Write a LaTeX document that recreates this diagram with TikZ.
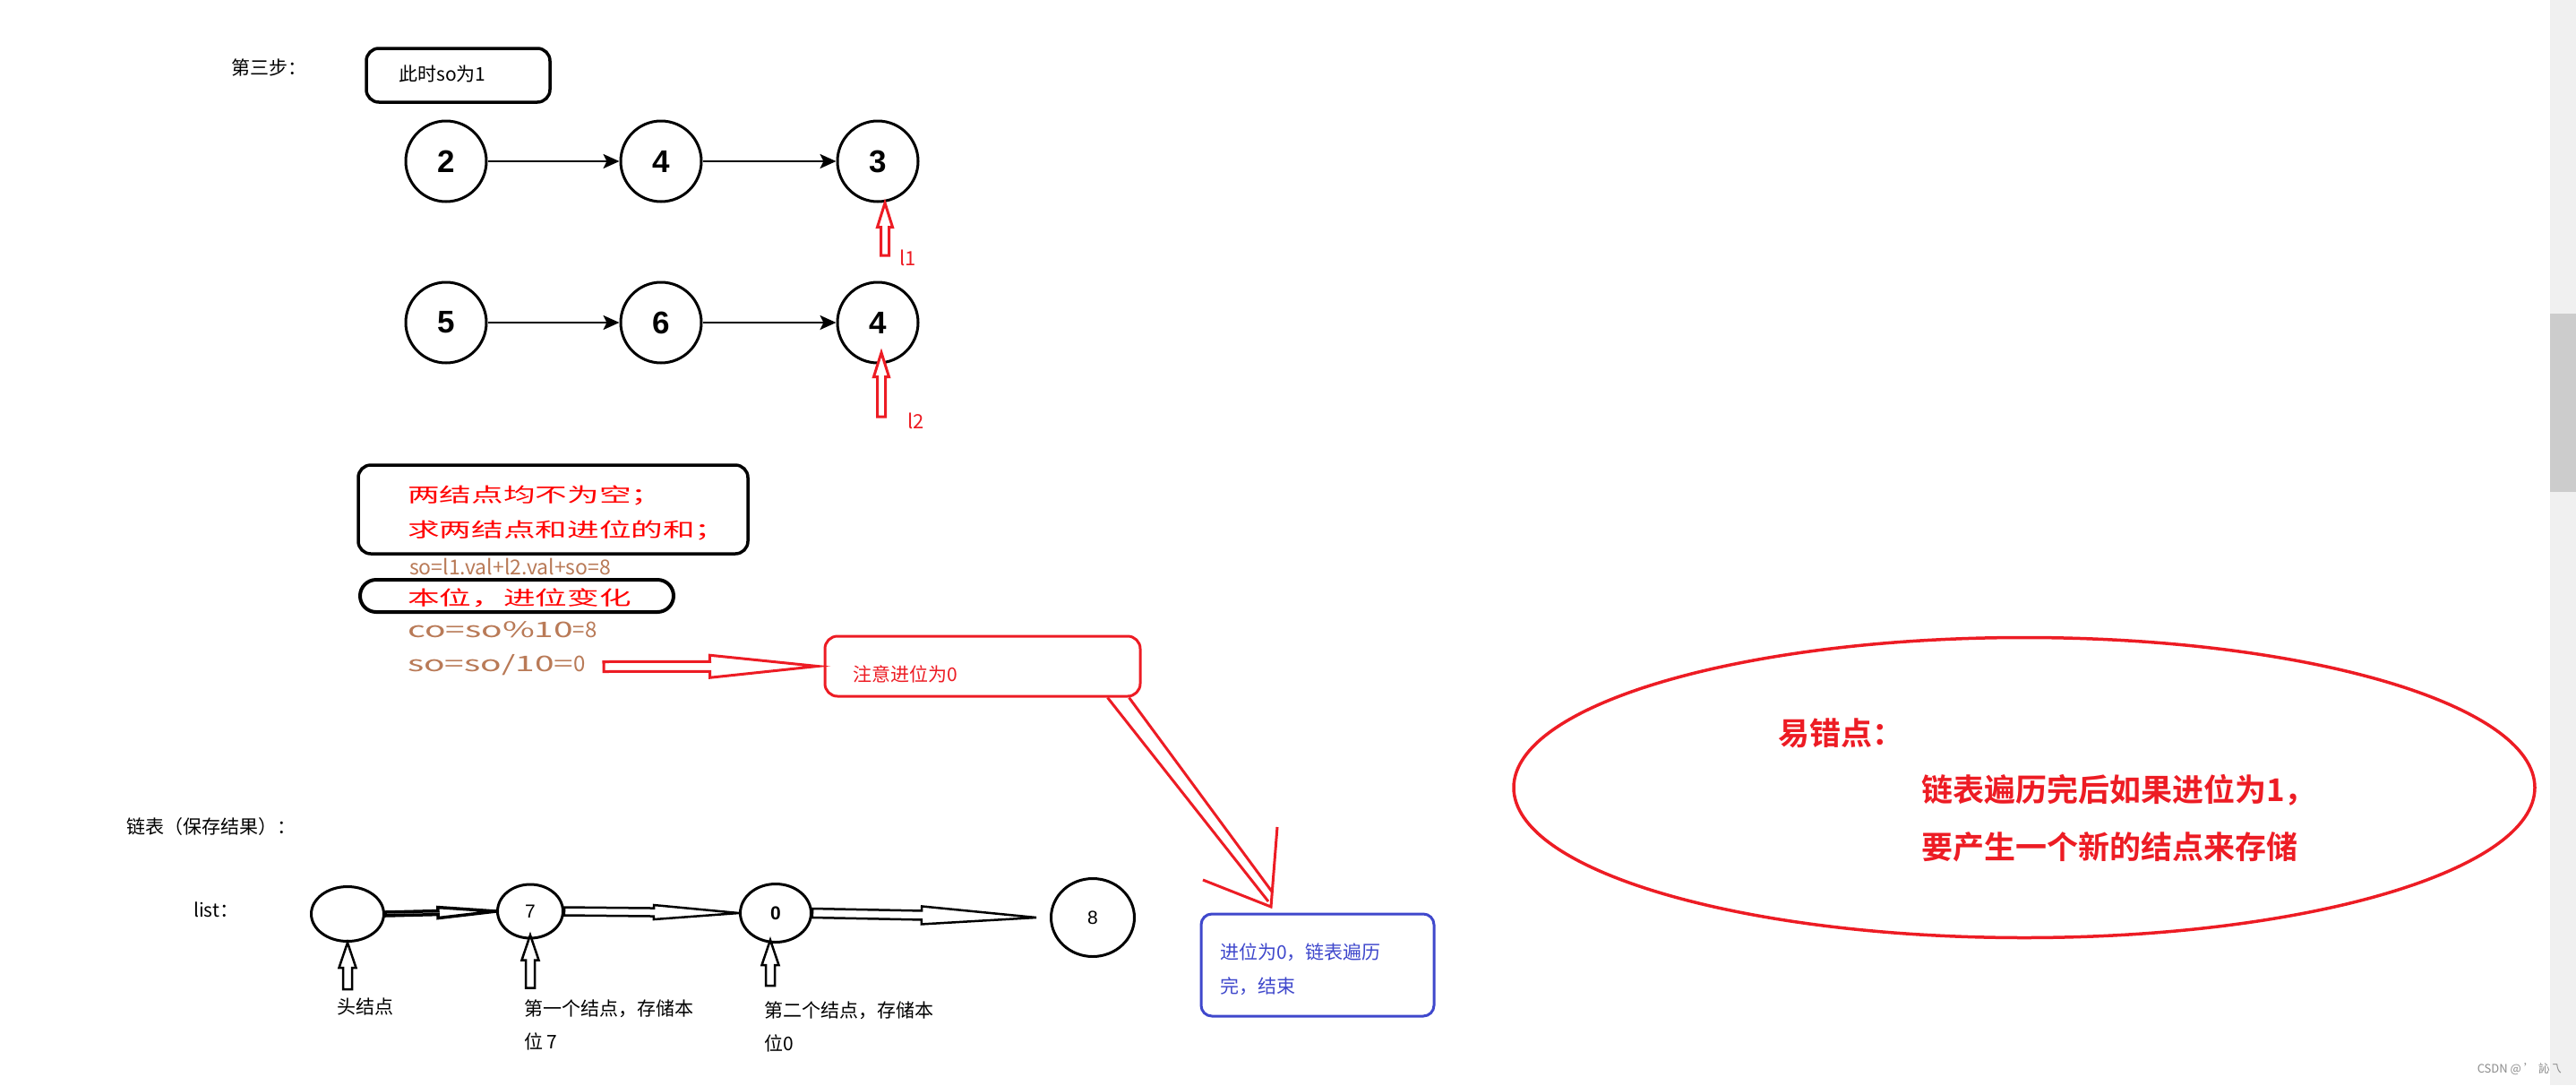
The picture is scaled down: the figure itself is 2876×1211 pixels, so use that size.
\documentclass[tikz,border=0pt]{standalone}
\usepackage{fontspec}
\setmainfont{Noto Sans CJK SC}[BoldFont={Noto Sans CJK SC Bold}]
\newfontfamily\widefont{Noto Sans CJK SC}[FakeStretch=1.62]
\newfontfamily\arialfont{Liberation Sans}
\usetikzlibrary{arrows.meta,calc,shapes.geometric,positioning}

\definecolor{paintred}{HTML}{ED1C24}
\definecolor{txtred}{HTML}{FF0000}
\definecolor{paintbrown}{HTML}{B97A57}
\definecolor{paintblue}{HTML}{3F48CC}

% hollow block arrow: style, tail, tip, half shaft, half head, head length
\newcommand{\blockarrow}[6]{%
	\coordinate (ba-h) at ($(#3)!#6!(#2)$);
	\draw[#1] ($(#2)!#4!90:(#3)$) -- ($(ba-h)!#4!90:(#3)$) -- ($(ba-h)!#5!90:(#3)$)
		-- (#3) -- ($(ba-h)!#5!-90:(#3)$) -- ($(ba-h)!#4!-90:(#3)$) -- ($(#2)!#4!-90:(#3)$) -- cycle;}

\begin{document}
\begin{tikzpicture}[x=1pt,y=-1pt,
	txt/.style={anchor=west, inner sep=0pt, font=\fontsize{21}{25}\selectfont},
	widetxt/.style={txt, font=\widefont\fontsize{22}{25}\selectfont},
	roundbox/.style={draw, line width=3.5pt, rounded corners=14pt, inner sep=0pt},
	numnode/.style={circle, draw, line width=3pt, minimum size=90pt, inner sep=0pt,
		font=\arialfont\bfseries\fontsize{35}{35}\selectfont},
	lnode/.style={ellipse, draw, line width=3pt, inner sep=0pt,
		font=\arialfont\fontsize{21}{21}\selectfont},
	link/.style={-{Stealth[length=18pt,width=16pt,inset=4pt]}, line width=2.5pt},
	redblock/.style={draw=paintred, line width=3pt, fill=white, line join=miter},
	blackblock/.style={draw=black, line width=2.5pt, fill=white, line join=miter},
	diag/.style={paintred, line width=3pt}]

	\useasboundingbox (0,0) rectangle (2876,1211);
	\fill[white] (0,0) rectangle (2876,1211);

	% Scroll bar and mark
	\fill[black!6] (2847,0) rectangle (2876,1211);
	\fill[black!20] (2847,350) rectangle (2876,549);
	\node[txt, anchor=east, text=black!45, font=\fontsize{13}{13}\selectfont] (mark) at (2860,1193) {CSDN @ ' 訫乁};

	% Step title
	\node[txt] (title) at (258,75) {第三步：};
	\node[roundbox, minimum width=205pt, minimum height=60pt] (sobox) at (511.5,84) {};
	\node[txt] (sotext) at (445,82) {此时so为1};

	% Lists l1 and l2
	\node[numnode] (a1) at (498,180) {2};
	\node[numnode] (a2) at (738,180) {4};
	\node[numnode] (a3) at (980,180) {3};
	\draw[link] (a1) -- (a2);
	\draw[link] (a2) -- (a3);

	\node[numnode] (b1) at (498,360) {5};
	\node[numnode] (b2) at (738,360) {6};
	\node[numnode] (b3) at (980,360) {4};
	\draw[link] (b1) -- (b2);
	\draw[link] (b2) -- (b3);

	\coordinate (l1tip) at ([xshift=8pt]a3.south);
	\coordinate (l1tail) at (988,285);
	\blockarrow{redblock}{l1tail}{l1tip}{4.5pt}{8.5pt}{27pt}
	\node[txt, text=paintred, font=\fontsize{22}{22}\selectfont] (l1) at (1004,288) {l1};

	\coordinate (l2tip) at ([xshift=4pt,yshift=13pt]b3.south);
	\coordinate (l2tail) at (984,465);
	\blockarrow{redblock}{l2tail}{l2tip}{4.5pt}{8.5pt}{27pt}
	\node[txt, text=paintred, font=\fontsize{22}{22}\selectfont] (l2) at (1013,470) {l2};

	% Sum and carry
	\node[roundbox, minimum width=435pt, minimum height=99pt] (sumbox) at (617.5,568.5) {};
	\node[widetxt, text=txtred] (sum1) at (455,553) {两结点均不为空；};
	\node[widetxt, text=txtred] (sum2) at (455,592) {求两结点和进位的和；};
	\node[txt, text=paintbrown, font=\fontsize{23}{25}\selectfont] (sumexpr) at (457,632) {so=l1.val+l2.val+so=8};

	\node[roundbox, line width=4pt, rounded corners=18pt, minimum width=350pt, minimum height=36pt] (digbox) at (577,665) {};
	\node[widetxt, text=txtred] (digtext) at (455,667) {本位，进位变化};
	\node[txt, text=paintbrown, font=\fontsize{24}{25}\selectfont] (coexpr) at (455,703) {{\widefont co=so\%10}=8};
	\node[txt, text=paintbrown, font=\fontsize{24}{25}\selectfont] (soexpr) at (455,742) {{\widefont so=so/10=}0};

	% Carry note
	\node[roundbox, draw=paintred, line width=3pt, minimum width=352pt, minimum height=67pt] (note0) at (1097,743.5) {};
	\node[txt, text=paintred] (notetext) at (952,752) {注意进位为0};
	\coordinate (carrytail) at (674,744);
	\coordinate (carrytip) at ([xshift=-7pt]note0.west);
	\blockarrow{redblock}{carrytail}{carrytip}{5.5pt}{12.5pt}{120pt}

	\node[roundbox, draw=paintblue, line width=3pt, rounded corners=12pt, minimum width=260pt, minimum height=114pt] (endbox) at (1471,1077) {};
	\node[txt, text=paintblue, align=left, font=\fontsize{21}{38}\selectfont] (endtext) at (1362,1082) {进位为0，链表遍历\\完，结束};

	\coordinate (d1) at ([xshift=-38pt]note0.south east);
	\coordinate (d2) at ([xshift=-14pt]note0.south east);
	\coordinate (e1) at (1416,1006);
	\coordinate (e2) at (1420,995);
	\coordinate (dtip) at (1419,1012);
	\coordinate (barbl) at (1343,982);
	\coordinate (barbr) at (1426,923);
	\draw[diag] (d1) -- (e1);
	\draw[diag] (d2) -- (e2);
	\draw[diag] (barbl) -- (dtip) -- (barbr);

	% Pitfall
	\node[ellipse, draw=paintred, line width=3.5pt, minimum width=1140pt, minimum height=335pt] (pitfall) at (2260,879) {};
	\node[txt, text=paintred, font=\bfseries\fontsize{35}{40}\selectfont] (pit1) at (1985,818) {易错点：};
	\node[txt, text=paintred, font=\bfseries\fontsize{35}{40}\selectfont] (pit2) at (2145,882) {链表遍历完后如果进位为1，};
	\node[txt, text=paintred, font=\bfseries\fontsize{35}{40}\selectfont] (pit3) at (2145,945) {要产生一个新的结点来存储};

	% Result list
	\node[txt] (restitle) at (141,923) {链表（保存结果）：};
	\node[txt] (listlbl) at (216,1015) {list：};

	\node[lnode, minimum width=81pt, minimum height=61pt] (h0) at (388,1020) {};
	\node[lnode, minimum width=73pt, minimum height=60pt] (r7) at (592,1017) {7};
	\node[lnode, minimum width=79pt, minimum height=65pt, font=\arialfont\bfseries\fontsize{21}{21}\selectfont] (r0) at (866,1019) {0};
	\node[lnode, minimum width=93pt, minimum height=87pt] (r8) at (1220,1024) {8};

	\blockarrow{blackblock, line width=3.5pt}{h0.east}{r7.west}{2pt}{6pt}{65pt}
	\blockarrow{blackblock}{r7.east}{r0.west}{4.5pt}{8pt}{95pt}
	\coordinate (r8tip) at ([xshift=-15pt]r8.west);
	\blockarrow{blackblock}{r0.east}{r8tip}{5pt}{10pt}{128pt}

	\coordinate (h0tail) at ([yshift=-52pt]h0.south);
	\blockarrow{blackblock}{h0tail}{h0.south}{5pt}{9.5pt}{28pt}
	\coordinate (r7tip) at ([yshift=5pt]r7.south);
	\coordinate (r7tail) at ([yshift=-54pt]r7.south);
	\blockarrow{blackblock}{r7tail}{r7tip}{5pt}{9.5pt}{28pt}
	\coordinate (r0tip) at ([xshift=-6pt,yshift=4pt]r0.south);
	\coordinate (r0tail) at ([xshift=-6pt,yshift=-47pt]r0.south);
	\blockarrow{blackblock}{r0tail}{r0tip}{5pt}{9.5pt}{28pt}

	\node[txt] (headlbl) at (376,1123) {头结点};
	\node[txt, align=left, font=\fontsize{21}{37}\selectfont] (lbl7) at (585,1143.5) {第一个结点，存储本\\位 7};
	\node[txt, align=left, font=\fontsize{21}{37}\selectfont] (lbl0) at (853,1146) {第二个结点，存储本\\位0};

\end{tikzpicture}
\end{document}
